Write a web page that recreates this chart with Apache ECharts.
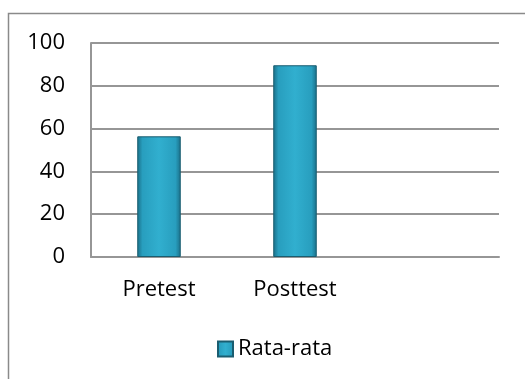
<!DOCTYPE html>
<html>
<head>
<meta charset="utf-8">
<script src="https://cdn.jsdelivr.net/npm/echarts@6/dist/echarts.min.js"></script>
<style>
  html, body { margin: 0; padding: 0; background: #fff; }
  #chart { width: 525px; height: 379px; }
</style>
</head>
<body>
<div id="chart"></div>
<script>
var categories = ['Pretest', 'Posttest', ''];
var rataRata = [56.4, 89.6];
var seriesName = 'Rata-rata';

var chart = echarts.init(document.getElementById('chart'));

var barFill = new echarts.graphic.LinearGradient(0, 0, 1, 0, [
  { offset: 0, color: '#1a6f88' },
  { offset: 0.12, color: '#289ebe' },
  { offset: 0.5, color: '#31afcf' },
  { offset: 0.88, color: '#289ebe' },
  { offset: 1, color: '#1a6f88' }
]);

var option = {
  animation: false,
  textStyle: { fontFamily: 'Open Sans' },
  graphic: [
    {
      type: 'rect',
      shape: { x: 8.5, y: 13.5, width: 530, height: 380 },
      style: { fill: 'none', stroke: '#8a8a8a', lineWidth: 1.5 },
      silent: true
    }
  ],
  grid: {
    left: 91,
    right: 26,
    top: 43,
    bottom: 122
  },
  legend: {
    left: 212,
    top: 333,
    icon: 'rect',
    itemWidth: 15,
    itemHeight: 15,
    itemGap: 8,
    textStyle: { fontSize: 22, color: '#000', fontFamily: 'Open Sans' },
    data: [seriesName]
  },
  xAxis: {
    type: 'category',
    data: categories,
    axisLine: { lineStyle: { color: '#969696', width: 2 } },
    axisTick: { show: false },
    axisLabel: { fontSize: 22, color: '#000', margin: 22 }
  },
  yAxis: {
    type: 'value',
    min: 0,
    max: 100,
    interval: 20,
    axisLine: { show: true, lineStyle: { color: '#969696', width: 2 } },
    axisTick: { show: false },
    axisLabel: { fontSize: 22, color: '#000', margin: 26 },
    splitLine: { lineStyle: { color: '#969696', width: 2 } }
  },
  series: [
    {
      name: seriesName,
      type: 'bar',
      data: rataRata,
      barWidth: '32%',
      itemStyle: {
        color: barFill,
        borderColor: '#1a5d70',
        borderWidth: 1
      }
    }
  ]
};

chart.setOption(option);
</script>
</body>
</html>
